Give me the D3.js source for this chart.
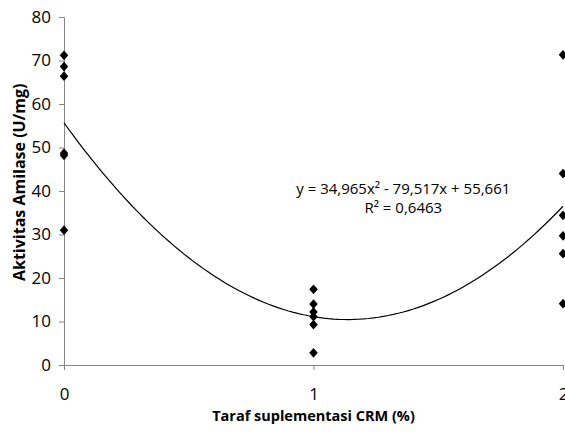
<!DOCTYPE html>
<html>
<head>
<meta charset="utf-8">
<script src="https://cdn.jsdelivr.net/npm/d3@7"></script>
<style>
  body { margin: 0; background: #fff; }
  text { font-family: "Open Sans", sans-serif; fill: #000; }
</style>
</head>
<body>
<div id="chart"></div>
<script>
// CRM level groups and measured amylase activity
const levels = [0, 1, 2];
const group0 = [71.2, 68.6, 66.4, 48.7, 48.2, 31.0];
const group1 = [17.4, 14.0, 12.2, 11.1, 9.3, 2.8];
const group2 = [71.3, 44.0, 34.4, 29.7, 25.6, 14.1];
const coef = [34.965, -79.517, 55.661];
const yTicks = [0, 10, 20, 30, 40, 50, 60, 70, 80];
const eqLines = ["y = 34,965x\u00b2 - 79,517x + 55,661", "R\u00b2 = 0,6463"];

let points = [];
[group0, group1, group2].forEach(function (g, i) {
  g.forEach(function (v) { points.push({x: levels[i], y: v}); });
});

let W = 565, H = 438;
let margin = {top: 17, right: 2, bottom: 73, left: 64};

let svg = d3.select("#chart").append("svg")
  .attr("width", W).attr("height", H);

let x = d3.scaleLinear().domain([0, 2]).range([margin.left, W - margin.right]);
let y = d3.scaleLinear().domain([0, 80]).range([H - margin.bottom, margin.top]);

// y axis
let yAxis = svg.append("g")
  .attr("transform", "translate(" + margin.left + ",0)")
  .call(d3.axisLeft(y).tickValues(yTicks).tickSize(5).tickPadding(8));
yAxis.select(".domain").attr("stroke", "#868686");
yAxis.selectAll(".tick line").attr("stroke", "#868686");
yAxis.selectAll("text").style("font-size", "17px").attr("fill", "#000");

// x axis
let xAxis = svg.append("g")
  .attr("transform", "translate(0," + y(0) + ")")
  .call(d3.axisBottom(x).tickValues(levels).tickFormat(d3.format("d")).tickSize(5).tickPadding(18));
xAxis.select(".domain").attr("stroke", "#868686");
xAxis.selectAll(".tick line").attr("stroke", "#868686");
xAxis.selectAll("text").style("font-size", "17px").attr("fill", "#000");

// trend line
let curve = d3.range(0, 2.0001, 0.02).map(function (t) {
  return {x: t, y: coef[0] * t * t + coef[1] * t + coef[2]};
});
svg.append("path")
  .datum(curve)
  .attr("fill", "none")
  .attr("stroke", "#000")
  .attr("stroke-width", 1.2)
  .attr("d", d3.line().x(function (d) { return x(d.x); }).y(function (d) { return y(d.y); }));

// points
let sym = d3.symbol().type(d3.symbolDiamond2).size(46);
svg.selectAll("path.pt")
  .data(points)
  .enter().append("path")
  .attr("class", "pt")
  .attr("d", sym)
  .attr("fill", "#000")
  .attr("transform", function (d) {
    return "translate(" + x(d.x) + "," + y(d.y) + ") scale(1,1.15)";
  });

// equation
svg.append("g").selectAll("text")
  .data(eqLines)
  .enter().append("text")
  .attr("x", x(1.36))
  .attr("y", function (d, i) { return y(39.3) + i * 19; })
  .attr("text-anchor", "middle")
  .style("font-size", "15px")
  .text(function (d) { return d; });

// axis titles
svg.append("text")
  .attr("transform", "translate(25," + y(42) + ") rotate(-90)")
  .attr("text-anchor", "middle")
  .style("font-size", "16px")
  .style("font-weight", "bold")
  .text("Aktivitas Amilase (U/mg)");

svg.append("text")
  .attr("x", x(1))
  .attr("y", 421)
  .attr("text-anchor", "middle")
  .style("font-size", "14.5px")
  .style("font-weight", "bold")
  .text("Taraf suplementasi CRM (%)");
</script>
</body>
</html>
